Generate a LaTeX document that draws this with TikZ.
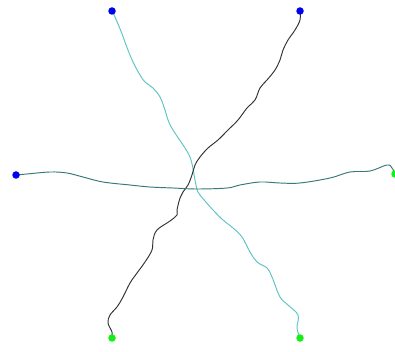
\documentclass[tikz,border=0pt]{standalone}
\definecolor{cyanline}{RGB}{95,196,196}
\definecolor{tealline}{RGB}{55,120,122}
\definecolor{darkline}{RGB}{50,50,50}
\definecolor{startdot}{RGB}{0,0,245}
\definecolor{enddot}{RGB}{20,240,20}
\tikzset{
  startpt/.style={circle,fill=startdot,inner sep=0pt,minimum size=7.5pt},
  endpt/.style={circle,fill=enddot,inner sep=0pt,minimum size=7.5pt},
  wig/.style={line width=0.95pt,line cap=round,line join=round}
}
\begin{document}
\begin{tikzpicture}[x=1pt,y=-1pt]
\useasboundingbox (0,0) rectangle (395,352);
\fill[white] (0,0) rectangle (395,352);
\coordinate (s1) at (112,11);
\coordinate (s2) at (300,11);
\coordinate (s3) at (16,175);
\coordinate (e1) at (300,338);
\coordinate (e2) at (112,338);
\coordinate (e3) at (395,174);
% curve 1: top-left to bottom-right
\draw[wig,cyanline] plot[smooth,tension=0.6] coordinates {(s1) (115,17) (121.7,33) (126.7,46.7) (133,62) (140,75) (145,82) (153,88) (160,97) (165,110) (168,120) (173,130) (185,148) (190,157) (192.7,167) (195,180) (198,192) (205,201) (213,210) (223,220) (233,228) (242,237) (250,252) (257,262) (267,268) (272,277) (280,297) (288,305) (298,315) (297,328) (e1)};
% curve 2: top-right to bottom-left
\draw[wig,darkline] plot[smooth,tension=0.6] coordinates {(s2) (300,20) (295,30) (288,40) (283,50) (280,60) (275,70) (267,80) (260,88) (255,100) (247,108) (238,120) (228,130) (218,140) (208,148) (200,157) (195,165) (192,175) (188,185) (183,192) (180,198) (177,210) (177,215) (170,221) (157,230) (153,240) (152,250) (145,262) (137,273) (130,283) (123,297) (117,307) (110,315) (108,323) (112,332) (e2)};
% curve 3: left to right
\draw[wig,tealline] plot[smooth,tension=0.6] coordinates {(s3) (27,174) (50,172) (67,173) (83,177) (103,182) (130,185) (150,187) (173,188) (197,189) (227,188) (240,185) (260,182) (280,183) (300,183) (330,178) (350,172) (370,171) (387,165) (392,168) (e3)};
\node[startpt] (n1) at (s1) {};
\node[startpt] (n2) at (s2) {};
\node[startpt] (n3) at (s3) {};
\node[endpt] (m1) at (e1) {};
\node[endpt] (m2) at (e2) {};
\node[endpt] (m3) at (e3) {};
\end{tikzpicture}
\end{document}
